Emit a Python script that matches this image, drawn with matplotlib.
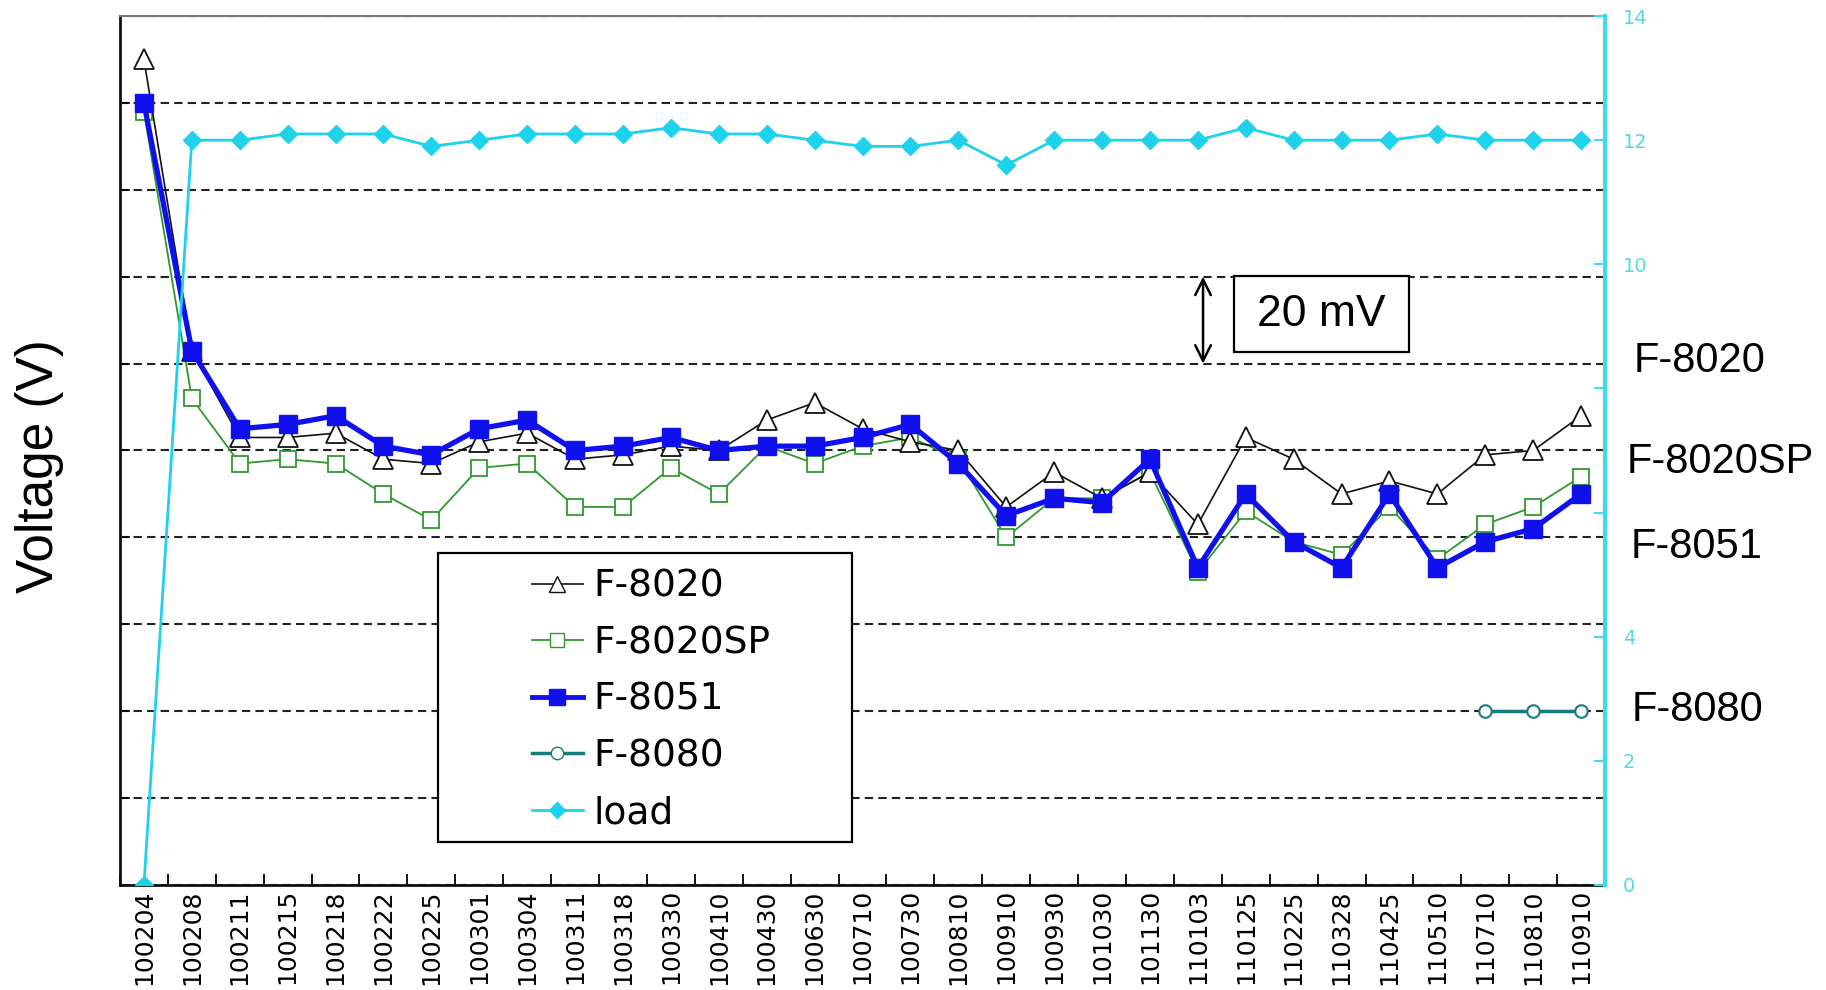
import numpy as np
import matplotlib.pyplot as plt
from matplotlib.patches import Rectangle
from matplotlib.lines import Line2D

# -------------------------------------------------
# DATA
# -------------------------------------------------
DATES = ["100204", "100208", "100211", "100215", "100218", "100222", "100225",
         "100301", "100304", "100311", "100318", "100330", "100410", "100430",
         "100630", "100710", "100730", "100810", "100910", "100930", "101030",
         "101130", "110103", "110125", "110225", "110328", "110425", "110510",
         "110710", "110810", "110910"]

# left axis (V), tick labels hidden in the original, one grid step = 20 mV
F8020 = [1.490, 1.423, 1.403, 1.403, 1.404, 1.398, 1.397, 1.402, 1.404, 1.398,
         1.399, 1.401, 1.400, 1.407, 1.411, 1.405, 1.402, 1.400, 1.387, 1.395,
         1.389, 1.395, 1.383, 1.403, 1.398, 1.390, 1.393, 1.390, 1.399, 1.400,
         1.408]
F8020SP = [1.478, 1.412, 1.397, 1.398, 1.397, 1.390, 1.384, 1.396, 1.397, 1.387,
           1.387, 1.396, 1.390, 1.401, 1.397, 1.401, 1.403, 1.398, 1.380, 1.389,
           1.389, 1.395, 1.372, 1.386, 1.379, 1.376, 1.387, 1.375, 1.383, 1.387,
           1.394]
F8051 = [1.480, 1.423, 1.405, 1.406, 1.408, 1.401, 1.399, 1.405, 1.407, 1.400,
         1.401, 1.403, 1.400, 1.401, 1.401, 1.403, 1.406, 1.397, 1.385, 1.389,
         1.388, 1.398, 1.373, 1.390, 1.379, 1.373, 1.390, 1.373, 1.379, 1.382,
         1.390]
F8080 = [np.nan] * 28 + [1.340, 1.340, 1.340]

# right axis (V)
LOAD = [0.0, 12.0, 12.0, 12.1, 12.1, 12.1, 11.9, 12.0, 12.1, 12.1, 12.1, 12.2,
        12.1, 12.1, 12.0, 11.9, 11.9, 12.0, 11.6, 12.0, 12.0, 12.0, 12.0, 12.2,
        12.0, 12.0, 12.0, 12.1, 12.0, 12.0, 12.0]
RIGHT_TICKS = [0, 2, 4, 6, 8, 10, 12, 14]
RIGHT_LABELS = ["0", "2", "4", "", "", "10", "12", "14"]  # 6 and 8 sit under the side labels

# -------------------------------------------------
# COLORS
# -------------------------------------------------
BLACK = "#111111"
GREEN = "#2E9A2E"
BLUE = "#1010EE"
TEAL = "#167C7C"
CYAN = "#1ED2EC"
CYAN_AX = "#40DCE6"
CYAN_TXT = "#55D8E0"

# -------------------------------------------------
# FIGURE
# -------------------------------------------------
fig = plt.figure(figsize=(18.26, 9.90), dpi=100)
fig.patch.set_facecolor("white")
ax = fig.add_axes([0.0657, 0.1061, 0.8133, 0.8777])
ax2 = ax.twinx()

x = np.arange(len(DATES))

ax.plot(x, F8020SP, color=GREEN, lw=1.3, marker="s", ms=12, mfc="white",
        mec=GREEN, mew=1.3, zorder=3)
ax.plot(x, F8020, color=BLACK, lw=1.2, marker="^", ms=14, mfc="white",
        mec=BLACK, mew=1.3, zorder=4)
ax.plot(x, F8051, color=BLUE, lw=3.8, marker="s", ms=13, mfc=BLUE,
        mec=BLUE, zorder=5)
ax.plot(x, F8080, color=TEAL, lw=2.5, marker="o", ms=9, mfc="white",
        mec=TEAL, mew=1.5, zorder=5)
ax2.plot(x, LOAD, color=CYAN, lw=2, marker="D", ms=9, mfc=CYAN, mec=CYAN,
         zorder=3)

# left axis: grid every 20 mV, labels hidden
ax.set_xlim(-0.5, len(DATES) - 0.5)
ax.set_ylim(1.30, 1.50)
ax.set_yticks(np.arange(1.30, 1.5001, 0.02))
ax.tick_params(axis="y", direction="in", length=7, width=1.2, labelleft=False)
ax.grid(axis="y", color="#222222", lw=1.5, linestyle=(0, (4, 2.5)))
ax.set_axisbelow(True)

# x axis: ticks between categories, labels on the categories
ax.set_xticks(np.arange(-0.5, len(DATES), 1))
ax.set_xticklabels([])
ax.set_xticks(x, DATES, minor=True, rotation=90, fontsize=18)
ax.tick_params(axis="x", which="major", direction="in", length=8, width=1.3)
ax.tick_params(axis="x", which="minor", length=0, pad=3)

# right axis
ax2.set_ylim(0, 14)
ax2.set_yticks(RIGHT_TICKS, RIGHT_LABELS)
ax2.tick_params(axis="y", direction="in", length=8, width=1.5, color=CYAN_AX,
                labelcolor=CYAN_TXT, labelsize=14, pad=13)

for s in ["left", "bottom"]:
    ax.spines[s].set_linewidth(2)
    ax.spines[s].set_color(BLACK)
ax.spines["top"].set_color("#777777")
ax.spines["top"].set_linewidth(1.5)
ax.spines["right"].set_visible(False)
for s in ["left", "bottom", "top"]:
    ax2.spines[s].set_visible(False)
ax2.spines["right"].set_color(CYAN_AX)
ax2.spines["right"].set_linewidth(3)

# -------------------------------------------------
# LEGEND (white box with square frame)
# -------------------------------------------------
ax2.add_patch(Rectangle((0.2141, 0.0495), 0.2788, 0.3326, transform=ax2.transAxes,
                        facecolor="white", edgecolor="black", lw=1.6, zorder=6))
handles = [
    Line2D([], [], color=BLACK, lw=1.2, marker="^", ms=11, mfc="white", mec=BLACK),
    Line2D([], [], color=GREEN, lw=1.3, marker="s", ms=10, mfc="white", mec=GREEN),
    Line2D([], [], color=BLUE, lw=3.5, marker="s", ms=11, mfc=BLUE, mec=BLUE),
    Line2D([], [], color=TEAL, lw=2.5, marker="o", ms=9, mfc="white", mec=TEAL),
    Line2D([], [], color=CYAN, lw=2, marker="D", ms=8, mfc=CYAN, mec=CYAN),
]
labels = ["F-8020", "F-8020SP", "F-8051", "F-8080", "load"]
leg = ax2.legend(handles, labels, loc="upper left", bbox_to_anchor=(0.2774, 0.364),
                 frameon=False, borderpad=0, borderaxespad=0, fontsize=27,
                 handlelength=1.36, handletextpad=0.27, labelspacing=0.55)
leg.set_zorder(7)

# -------------------------------------------------
# 20 mV ANNOTATION
# -------------------------------------------------
ax2.add_patch(Rectangle((0.750, 0.6133), 0.1178, 0.0875, transform=ax2.transAxes,
                        facecolor="white", edgecolor="black", lw=1.6, zorder=6))
ax2.text(0.809, 0.657, "20 mV", transform=ax2.transAxes, ha="center", va="center",
         fontsize=32, family="Liberation Sans", zorder=7)
ax2.annotate("", xy=(0.7293, 0.6), xytext=(0.7293, 0.7), xycoords="axes fraction",
             arrowprops=dict(arrowstyle="<->", lw=1.8, color="black",
                             mutation_scale=28, shrinkA=0, shrinkB=0), zorder=7)

# -------------------------------------------------
# SIDE LABELS
# -------------------------------------------------
side = [("F-8020", 0.8949, 0.6354), ("F-8020SP", 0.8910, 0.5334),
        ("F-8051", 0.8930, 0.4476), ("F-8080", 0.8938, 0.2829)]
for txt, sx, sy in side:
    fig.text(sx, sy, txt, ha="left", va="center", fontsize=30,
             family="Liberation Sans",
             bbox=dict(boxstyle="square,pad=0.45", fc="white", ec="none"))

fig.text(0.0219, 0.529, "Voltage (V)", rotation=90, ha="center", va="center",
         fontsize=37, family="Liberation Sans")

fig.savefig("out.png", dpi=100, facecolor="white")
